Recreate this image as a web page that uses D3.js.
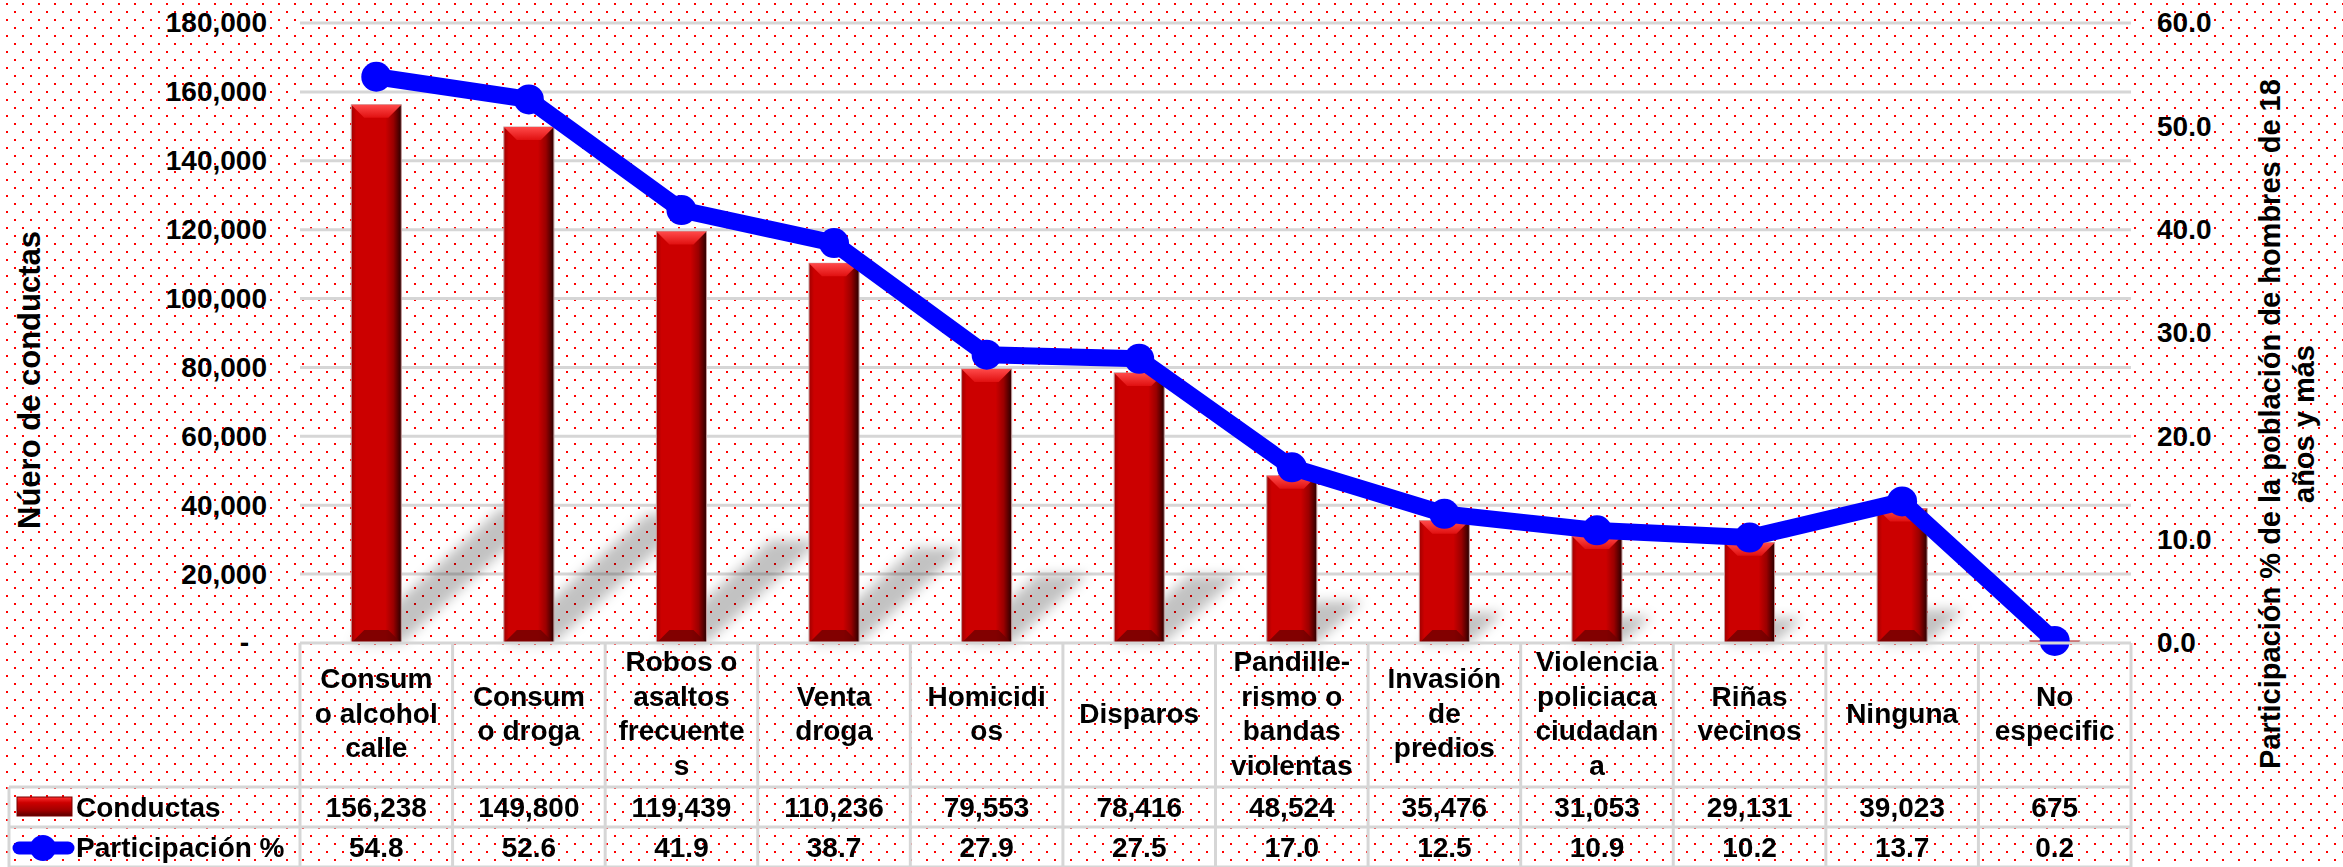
<!DOCTYPE html>
<html>
<head>
<meta charset="utf-8">
<script src="https://cdn.jsdelivr.net/npm/d3@7/dist/d3.min.js"></script>
<style>
  body { margin: 0; background: #fff; }
  svg text { font-family: 'Liberation Sans', Arial, sans-serif; font-weight: bold; fill: #000; }
</style>
</head>
<body>
<div id="chart"></div>
<script>
const categories = ['Consumo alcohol calle', 'Consumo droga', 'Robos o asaltos frecuentes', 'Venta droga',
    'Homicidios', 'Disparos', 'Pandille-rismo o bandas violentas', 'Invasión de predios',
    'Violencia policiaca ciudadana', 'Riñas vecinos', 'Ninguna', 'No especific'];
const categoryLines = [
    ['Consum', 'o alcohol', 'calle'], ['Consum', 'o droga'], ['Robos o', 'asaltos', 'frecuente', 's'],
    ['Venta', 'droga'], ['Homicidi', 'os'], ['Disparos'], ['Pandille-', 'rismo o', 'bandas', 'violentas'],
    ['Invasión', 'de', 'predios'], ['Violencia', 'policiaca', 'ciudadan', 'a'], ['Riñas', 'vecinos'],
    ['Ninguna'], ['No', 'especific']];
const conductas = [156238, 149800, 119439, 110236, 79553, 78416, 48524, 35476, 31053, 29131, 39023, 675];
const participacion = [54.8, 52.6, 41.9, 38.7, 27.9, 27.5, 17.0, 12.5, 10.9, 10.2, 13.7, 0.2];
const leftTicks = [0, 20000, 40000, 60000, 80000, 100000, 120000, 140000, 160000, 180000];
const rightTicks = [0, 10, 20, 30, 40, 50, 60];
const seriesNames = ['Conductas', 'Participación %'];

const W = 2343, H = 867;
const plotLeft = 300, plotRight = 2131, plotTop = 23, base = 643;
const rowY = [643, 787, 827, 867];
const gridColor = '#d6d6d6';

const svg = d3.select('#chart').append('svg')
    .attr('width', W)
    .attr('height', H);

const defs = svg.append('defs');

// dotted background
const pat = defs.append('pattern')
    .attr('id', 'dots')
    .attr('width', 16).attr('height', 16)
    .attr('patternUnits', 'userSpaceOnUse');
pat.append('rect').attr('x', 6).attr('y', 3).attr('width', 2).attr('height', 2).attr('fill', '#ff0000');
pat.append('rect').attr('x', 14).attr('y', 11).attr('width', 2).attr('height', 2).attr('fill', '#ff0000');

const body = defs.append('linearGradient').attr('id', 'barBody');
[['0%', '#a00000'], ['10%', '#cc0000'], ['68%', '#cc0000'], ['84%', '#9a0000'], ['100%', '#2a0000']]
    .forEach(([o, c]) => body.append('stop').attr('offset', o).attr('stop-color', c));

const topBevel = defs.append('linearGradient').attr('id', 'barTop')
    .attr('x1', 0).attr('y1', 0).attr('x2', 0).attr('y2', 1);
topBevel.append('stop').attr('offset', '0%').attr('stop-color', '#ff4a4a');
topBevel.append('stop').attr('offset', '100%').attr('stop-color', '#e01010');

const keyGrad = defs.append('linearGradient').attr('id', 'keyBody')
    .attr('x1', 0).attr('y1', 0).attr('x2', 0).attr('y2', 1);
[['0%', '#ff3030'], ['30%', '#cc0000'], ['70%', '#a00000'], ['100%', '#5a0000']]
    .forEach(([o, c]) => keyGrad.append('stop').attr('offset', o).attr('stop-color', c));

defs.append('filter').attr('id', 'blur')
    .attr('x', '-50%').attr('y', '-50%').attr('width', '200%').attr('height', '200%')
    .append('feGaussianBlur').attr('stdDeviation', 6);

svg.append('rect').attr('width', W).attr('height', H).attr('fill', '#fff');
svg.append('rect').attr('width', W).attr('height', H).attr('fill', 'url(#dots)');

const x = d3.scaleBand()
    .domain(categories)
    .range([plotLeft, plotRight])
    .paddingInner(0.672)
    .paddingOuter(0.336);
const step = x.step();
const y = d3.scaleLinear().domain([0, 180000]).range([base, plotTop]);
const y2 = d3.scaleLinear().domain([0, 60]).range([base, plotTop]);

// gridlines
svg.append('g')
    .selectAll('line')
    .data(leftTicks.slice(1))
    .join('line')
    .attr('x1', plotLeft).attr('x2', plotRight)
    .attr('y1', d => y(d)).attr('y2', d => y(d))
    .attr('stroke', gridColor)
    .attr('stroke-width', 3);

// axes
const yAxis = svg.append('g')
    .attr('transform', `translate(${plotLeft},0)`)
    .call(d3.axisLeft(y).tickValues(leftTicks).tickSize(0).tickPadding(33)
        .tickFormat(d => d === 0 ? '-' : d3.format(',')(d)));
yAxis.select('.domain').remove();
yAxis.selectAll('text').style('font-size', '28px')
    .attr('x', d => d === 0 ? -51 : -33);

const y2Axis = svg.append('g')
    .attr('transform', `translate(${plotRight},0)`)
    .call(d3.axisRight(y2).tickValues(rightTicks).tickSize(0).tickPadding(26)
        .tickFormat(d3.format('.1f')));
y2Axis.select('.domain').remove();
y2Axis.selectAll('text').style('font-size', '28px');

svg.append('text')
    .attr('transform', 'translate(40,380) rotate(-90)')
    .attr('text-anchor', 'middle')
    .style('font-size', '31px')
    .text('Núero de conductas');

const rt = svg.append('text')
    .attr('transform', 'translate(2280,424) rotate(-90)')
    .attr('text-anchor', 'middle')
    .style('font-size', '29px');
rt.append('tspan').attr('x', 0).attr('y', 0).text('Participación % de la población de hombres de 18');
rt.append('tspan').attr('x', 0).attr('y', 34).text('años y más');

// bar shadows
svg.append('g')
    .attr('filter', 'url(#blur)')
    .selectAll('path')
    .data(conductas)
    .join('path')
    .attr('d', (d, i) => {
        const x0 = x(categories[i]), x1 = x0 + x.bandwidth();
        const dy = (base - y(d)) * 0.25, dx = dy / 0.9;
        return `M${x0},${base}L${x1},${base}L${x1 + dx},${base - dy}L${x0 + dx},${base - dy}Z`;
    })
    .attr('fill', '#000')
    .attr('opacity', 0.24);

// bars
const bars = svg.append('g')
    .selectAll('g.bar')
    .data(conductas)
    .join('g')
    .attr('class', 'bar');

bars.append('rect')
    .attr('x', (d, i) => x(categories[i]))
    .attr('y', d => y(d))
    .attr('width', x.bandwidth())
    .attr('height', d => base - y(d))
    .attr('fill', 'url(#barBody)')
    .attr('stroke', '#c49a9a')
    .attr('stroke-width', 1);

bars.append('path')
    .attr('d', (d, i) => {
        const x0 = x(categories[i]), w = x.bandwidth(), y0 = y(d);
        const b = Math.min(13, (base - y0) / 2);
        return `M${x0},${y0}L${x0 + w},${y0}L${x0 + w - b},${y0 + b}L${x0 + b},${y0 + b}Z`;
    })
    .attr('fill', 'url(#barTop)');

bars.append('path')
    .attr('d', (d, i) => {
        const x0 = x(categories[i]), w = x.bandwidth();
        const b = Math.min(13, (base - y(d)) / 2);
        return `M${x0},${base}L${x0 + w},${base}L${x0 + w - b},${base - b}L${x0 + b},${base - b}Z`;
    })
    .attr('fill', '#6a0000')
    .attr('opacity', 0.75);

// participation line
const cx = (d, i) => x(categories[i]) + x.bandwidth() / 2;
const line = d3.line()
    .x(cx)
    .y(d => y2(d));

svg.append('path')
    .datum(participacion)
    .attr('d', line)
    .attr('fill', 'none')
    .attr('stroke', '#0000ff')
    .attr('stroke-width', 17)
    .attr('stroke-linejoin', 'round');

svg.append('g')
    .selectAll('circle')
    .data(participacion)
    .join('circle')
    .attr('cx', cx)
    .attr('cy', d => y2(d))
    .attr('r', 15)
    .attr('fill', '#0000ff');

// data table
const grid = svg.append('g')
    .attr('stroke', gridColor)
    .attr('stroke-width', 3);

grid.selectAll('line.v')
    .data(d3.range(categories.length + 1))
    .join('line')
    .attr('class', 'v')
    .attr('x1', i => plotLeft + i * step).attr('x2', i => plotLeft + i * step)
    .attr('y1', rowY[0]).attr('y2', H);

grid.append('line').attr('x1', 9).attr('x2', 9).attr('y1', rowY[1]).attr('y2', H);

grid.selectAll('line.h')
    .data(rowY)
    .join('line')
    .attr('class', 'h')
    .attr('x1', (d, i) => i === 0 ? plotLeft : 9).attr('x2', plotRight)
    .attr('y1', d => d).attr('y2', d => d);

const headerMid = (rowY[0] + rowY[1]) / 2 - 2;
const lh = 34.5;

svg.append('g')
    .selectAll('text')
    .data(categoryLines)
    .join('text')
    .attr('text-anchor', 'middle')
    .style('font-size', '28px')
    .each(function (lines, i) {
        const t = d3.select(this);
        const first = headerMid - (lines.length - 1) * lh / 2;
        lines.forEach((s, k) => {
            t.append('tspan')
                .attr('x', x(categories[i]) + x.bandwidth() / 2)
                .attr('y', first + k * lh)
                .attr('dy', '0.35em')
                .text(s);
        });
    });

const rows = [
    { y: (rowY[1] + rowY[2]) / 2, values: conductas.map(d3.format(',')) },
    { y: (rowY[2] + rowY[3]) / 2, values: participacion.map(d3.format('.1f')) }
];

rows.forEach(row => {
    svg.append('g')
        .selectAll('text')
        .data(row.values)
        .join('text')
        .attr('x', (d, i) => x(categories[i]) + x.bandwidth() / 2)
        .attr('y', row.y)
        .attr('dy', '0.35em')
        .attr('text-anchor', 'middle')
        .style('font-size', '28px')
        .text(d => d);
});

// legend keys in the table
svg.append('rect')
    .attr('x', 17).attr('y', 797)
    .attr('width', 55).attr('height', 19)
    .attr('fill', 'url(#keyBody)')
    .attr('stroke', '#7a0000')
    .attr('stroke-width', 1);

svg.append('line')
    .attr('x1', 19).attr('x2', 68)
    .attr('y1', 848).attr('y2', 848)
    .attr('stroke', '#0000ff')
    .attr('stroke-width', 13)
    .attr('stroke-linecap', 'round');
svg.append('circle')
    .attr('cx', 43).attr('cy', 848).attr('r', 13)
    .attr('fill', '#0000ff');

svg.append('g')
    .selectAll('text')
    .data(seriesNames)
    .join('text')
    .attr('x', 76)
    .attr('y', (d, i) => rows[i].y)
    .attr('dy', '0.35em')
    .style('font-size', '28px')
    .text(d => d);
</script>
</body>
</html>
